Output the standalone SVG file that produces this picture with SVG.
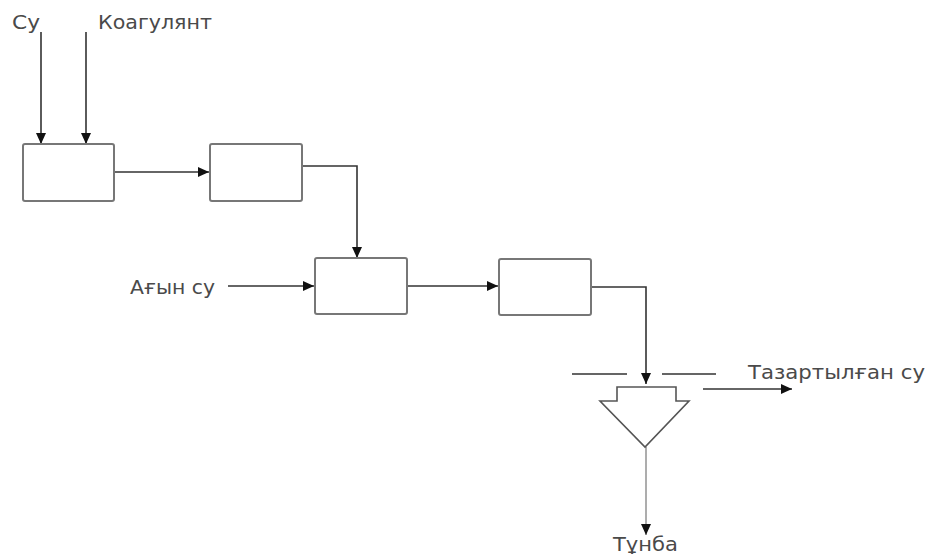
<svg xmlns="http://www.w3.org/2000/svg" width="930" height="554" viewBox="0 0 930 554">
<style>
.box{fill:#fff;stroke:#777;stroke-width:2}
.ln{fill:none;stroke:#333;stroke-width:1.6}
.lt{fill:none;stroke:#999;stroke-width:1.6}
.t{font-family:"DejaVu Sans","Liberation Sans",sans-serif;font-size:19px;fill:#4a4a4a}
</style>
<defs>
<marker id="ah" markerWidth="12" markerHeight="12" refX="11" refY="5.5" orient="auto" markerUnits="userSpaceOnUse">
<path d="M0,0.5 L11,5.5 L0,10.5 Z" fill="#111"/>
</marker>
</defs>
<rect width="930" height="554" fill="#fff"/>
<g id="connectors">
<path class="ln" d="M41,32 V144" marker-end="url(#ah)"/>
<path class="ln" d="M86,32 V144" marker-end="url(#ah)"/>
<path class="ln" d="M114,172 H209" marker-end="url(#ah)"/>
<path class="ln" d="M302,166 H357 V258" marker-end="url(#ah)"/>
<path class="ln" d="M228,286 H314" marker-end="url(#ah)"/>
<path class="ln" d="M407,286 H498" marker-end="url(#ah)"/>
<path class="ln" d="M591,287 H646 V384" marker-end="url(#ah)"/>
<path class="ln" d="M703,389 H792" marker-end="url(#ah)"/>
<path class="lt" d="M646,447 V535" marker-end="url(#ah)"/>
</g>
<g id="labels">
<text class="t" x="12" y="29" textLength="28" lengthAdjust="spacingAndGlyphs">Су</text>
<text class="t" x="98" y="29" textLength="114" lengthAdjust="spacingAndGlyphs">Коагулянт</text>
<text class="t" x="130" y="294" textLength="85" lengthAdjust="spacingAndGlyphs">Ағын су</text>
<text class="t" x="748" y="379" textLength="177" lengthAdjust="spacingAndGlyphs">Тазартылған су</text>
<text class="t" x="613" y="551" textLength="65" lengthAdjust="spacingAndGlyphs">Тұнба</text>
</g>
<g id="node1"><rect class="box" x="23" y="144" width="91" height="57" rx="2"/></g>
<g id="node2"><rect class="box" x="210" y="144" width="92" height="57" rx="2"/></g>
<g id="node3"><rect class="box" x="315" y="258" width="92" height="56" rx="2"/></g>
<g id="node4"><rect class="box" x="499" y="259" width="92" height="56" rx="2"/></g>
<g id="settler">
<path class="ln" d="M572,374 H627 M662,374 H716"/>
<polygon points="617,387 676,387 676,401 689,401 645,447 600,401 617,401" fill="#fff" stroke="#555" stroke-width="1.6"/>
</g>
</svg>
